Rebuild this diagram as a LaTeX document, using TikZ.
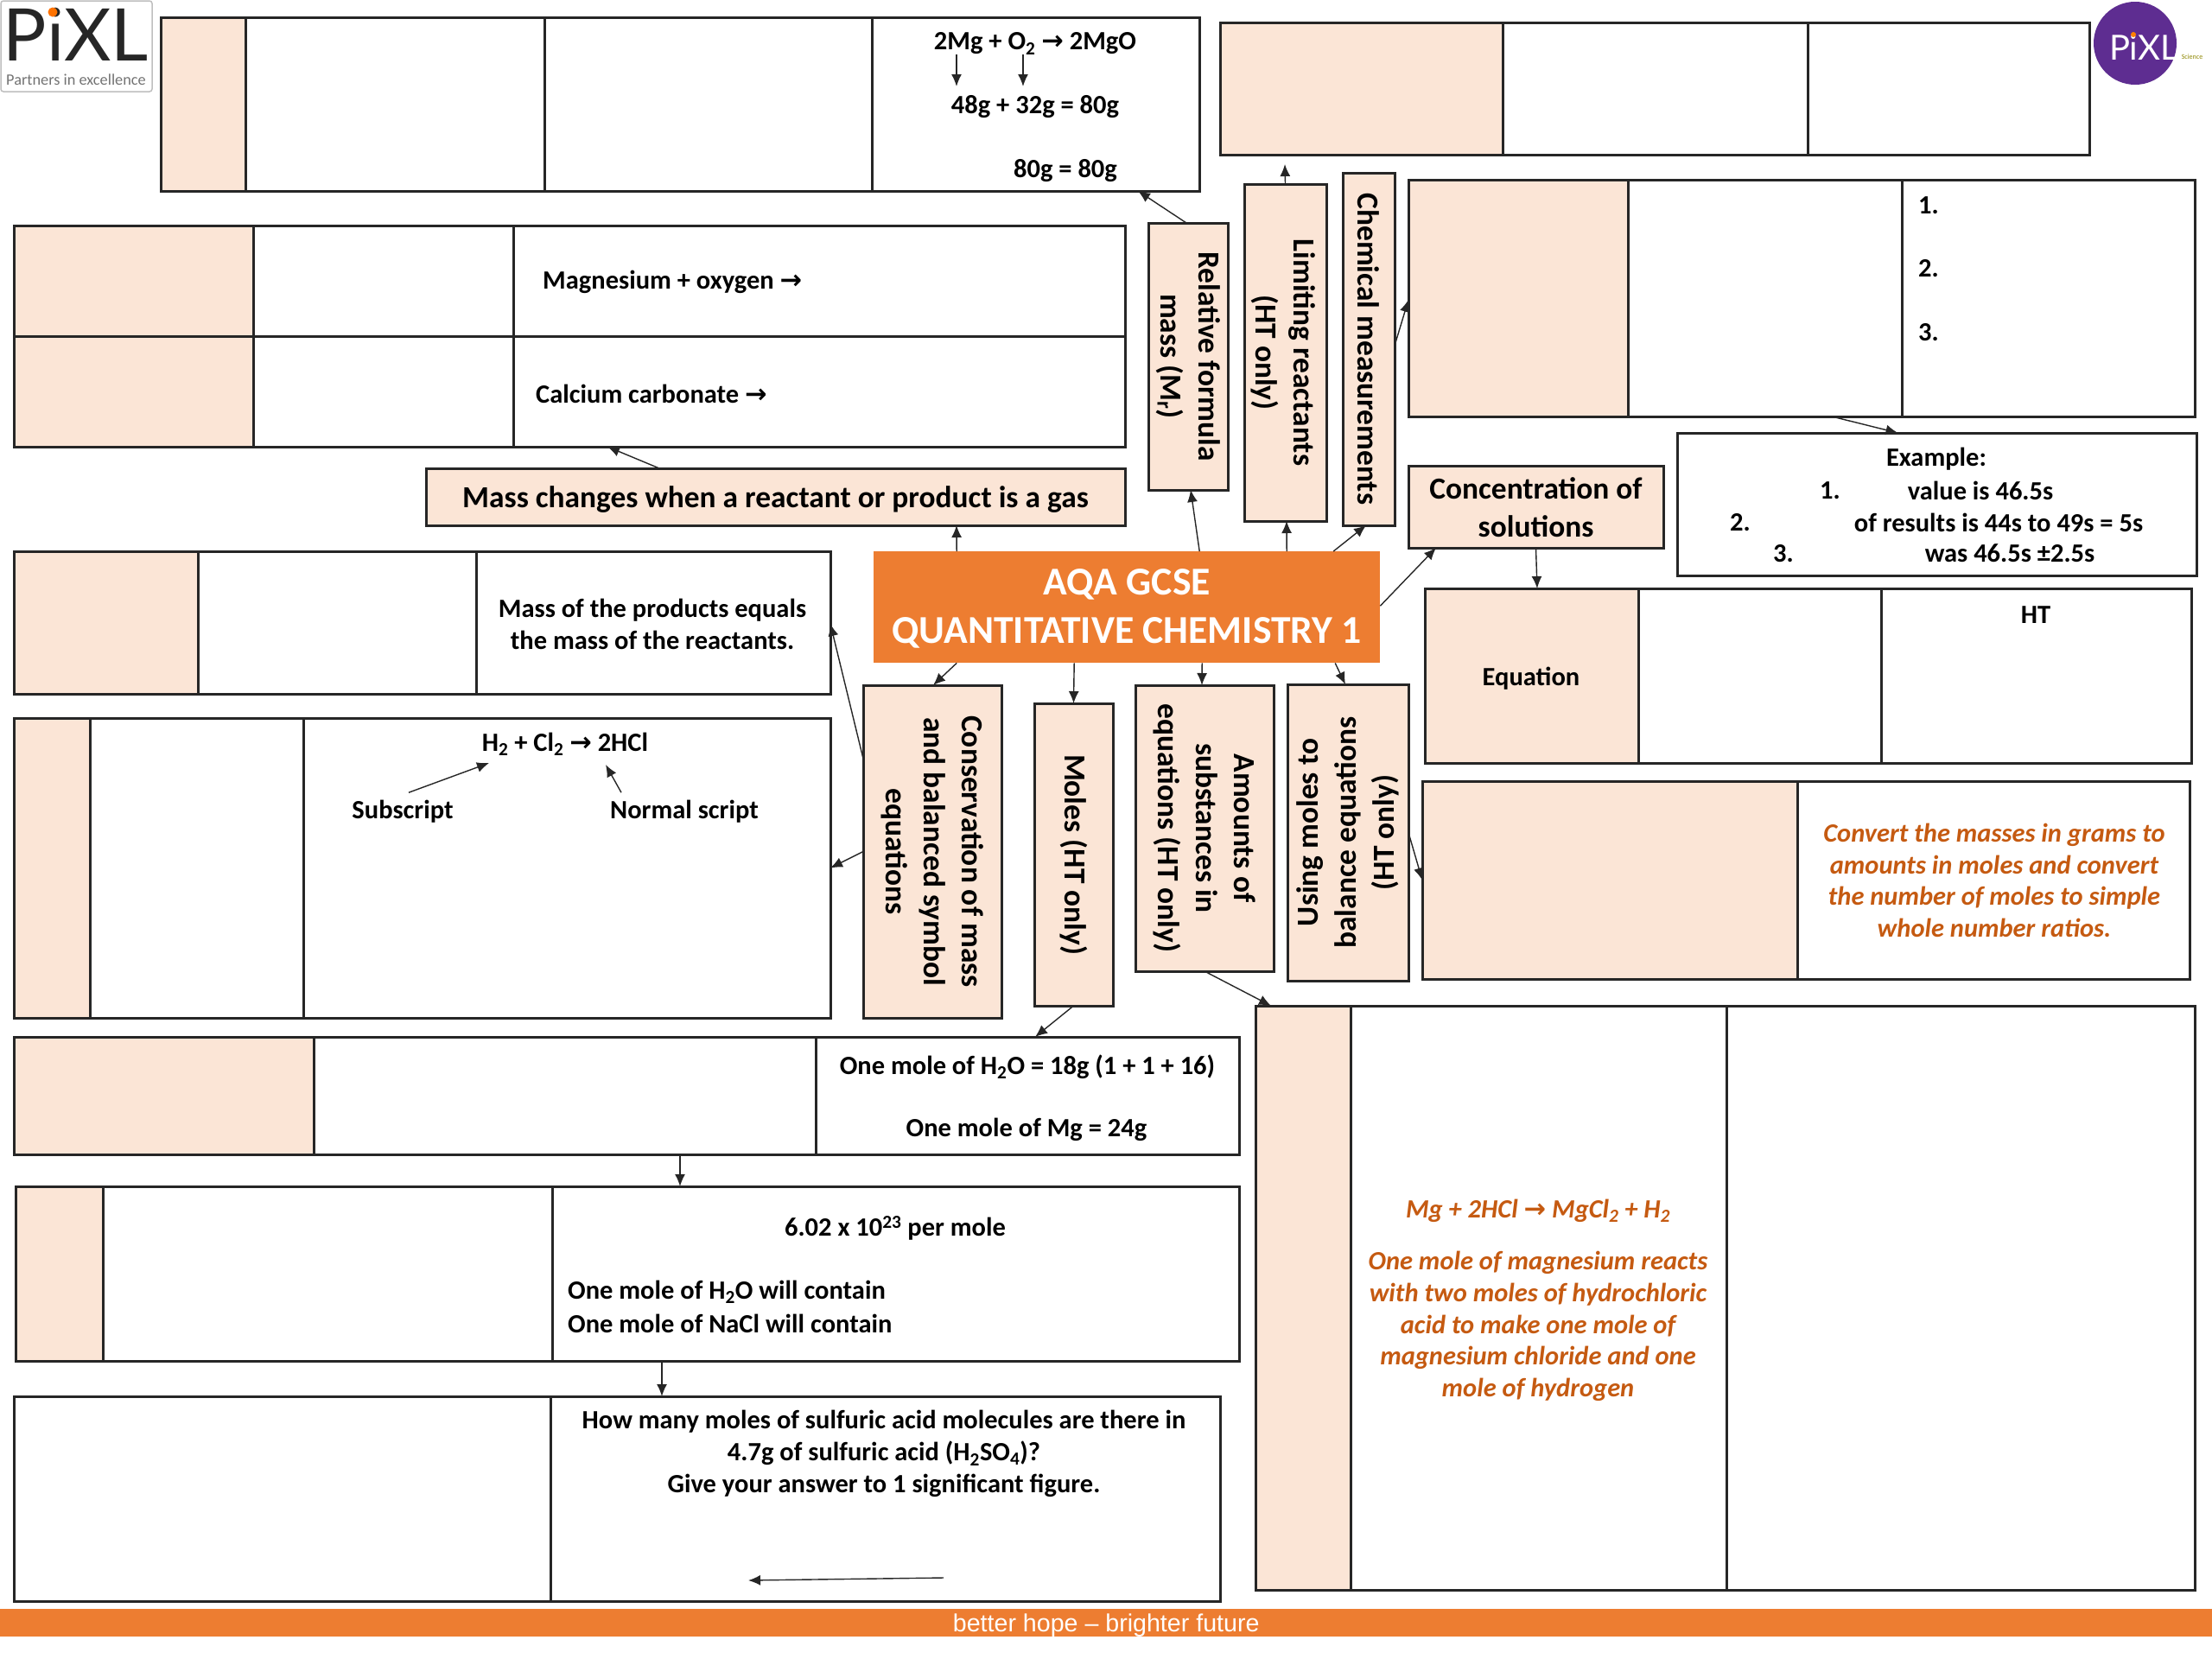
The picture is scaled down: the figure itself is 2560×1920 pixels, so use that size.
\documentclass[tikz,border=0pt]{standalone}
\usepackage{fontspec}
\setmainfont{Carlito}
\newfontfamily\logofont{Lato}
\newfontfamily\footfont{Liberation Sans}
\newfontfamily\symbfont{DejaVu Sans}
\usetikzlibrary{arrows.meta}

\definecolor{peach}{HTML}{FBE5D6}
\definecolor{banner}{HTML}{ED7D31}
\definecolor{rust}{HTML}{C55A11}
\definecolor{pixlpurple}{HTML}{5E2D91}

\newcommand{\yields}{{\symbfont\bfseries →}}
\newcommand{\sub}[1]{\textsubscript{#1}}
% one table cell from its top left to its bottom right corner
\newcommand{\tabcell}[6][]{%
  \node[cell,#1,minimum width={(#5-#3)*1pt},minimum height={(#6-#4)*1pt}] (#2) at (#3,#4) {};}

\tikzset{
  cell/.style={draw=black!85,line width=3pt,anchor=north west,inner sep=0pt,outer sep=0pt},
  peachy/.style={fill=peach},
  txt/.style={font=\bfseries\fontsize{30.5}{37}\selectfont,align=center,inner sep=0pt,text=black,yshift=-1.5pt},
  topic/.style={font=\bfseries\fontsize{35.4}{44}\selectfont,align=center,inner sep=0pt,text=black},
  rusty/.style={font=\bfseries\itshape\fontsize{30.5}{36.6}\selectfont,align=center,inner sep=0pt,text=rust,yshift=-1pt},
  link/.style={-{Latex[length=14pt,width=12pt]},line width=1.4pt,draw=black!85},
}

\begin{document}
\begin{tikzpicture}[x=1pt,y=-1pt]
  \useasboundingbox (0,0) rectangle (2560,1920);

  % logos
  \draw[rounded corners=3pt,draw=black!25,line width=1.5pt] (1,1) rectangle (176,106);
  \node[inner sep=0pt,font=\logofont\fontsize{84}{84}\selectfont,text=black!85] (pixl) at (88,40) {PiXL};
  \fill[orange!90!red] (61,14) circle[radius=5.5];
  \node[inner sep=0pt,font=\fontsize{18.3}{18.3}\selectfont,text=black!55] (partners) at (88,92) {Partners in excellence};
  \fill[pixlpurple] (2471,50) circle[radius=48];
  \node[inner sep=0pt,font=\logofont\fontsize{40}{40}\selectfont,text=white] (pixlb) at (2481,55) {PiXL};
  \fill[orange] (2469,40) circle[radius=3];
  \node[inner sep=0pt,font=\fontsize{8}{8}\selectfont,text=olive] (science) at (2537,66) {Science};

  % top row
  \tabcell[peachy]{ta}{186}{20}{284}{221}
  \tabcell{tb}{284}{20}{630}{221}
  \tabcell{tc}{630}{20}{1009}{221}
  \tabcell{td}{1009}{20}{1388}{221}
  \tabcell[peachy]{ua}{1412}{26}{1739}{179}
  \tabcell{ub}{1739}{26}{2092}{179}
  \tabcell{uc}{2092}{26}{2418}{179}

  % left column
  \tabcell[peachy]{ga}{16}{261}{293}{389}
  \tabcell{gb}{293}{261}{594}{389}
  \tabcell{gc}{594}{261}{1302}{389}
  \tabcell[peachy]{gd}{16}{389}{293}{517}
  \tabcell{ge}{293}{389}{594}{517}
  \tabcell{gf}{594}{389}{1302}{517}
  \tabcell[peachy]{massg}{493}{542}{1302}{608}
  \tabcell[peachy]{pa}{16}{638}{229}{803}
  \tabcell{pb}{229}{638}{551}{803}
  \tabcell{pc}{551}{638}{961}{803}
  \tabcell[peachy]{ha}{16}{831}{104}{1178}
  \tabcell{hb}{104}{831}{351}{1178}
  \tabcell{hc}{351}{831}{961}{1178}
  \tabcell[peachy]{ma}{16}{1200}{363}{1336}
  \tabcell{mb}{363}{1200}{944}{1336}
  \tabcell{mc}{944}{1200}{1434}{1336}
  \tabcell[peachy]{na}{18}{1373}{119}{1575}
  \tabcell{nb}{119}{1373}{639}{1575}
  \tabcell{nc}{639}{1373}{1434}{1575}
  \tabcell{qa}{16}{1616}{637}{1853}
  \tabcell{qb}{637}{1616}{1412}{1853}

  % right column
  \tabcell[peachy]{ca}{1630}{208}{1884}{482}
  \tabcell{cb}{1884}{208}{2201}{482}
  \tabcell{cc}{2201}{208}{2540}{482}
  \tabcell{ex}{1941}{501}{2542}{666}
  \tabcell[peachy]{conc}{1630}{539}{1925}{634}
  \tabcell[peachy]{ea}{1649}{681}{1896}{883}
  \tabcell{eb}{1896}{681}{2177}{883}
  \tabcell{ec}{2177}{681}{2536}{883}
  \tabcell[peachy]{va}{1646}{904}{2080}{1133}
  \tabcell{vb}{2080}{904}{2534}{1133}
  \tabcell[peachy]{ba}{1453}{1164}{1563}{1840}
  \tabcell{bb}{1563}{1164}{1998}{1840}
  \tabcell{bc}{1998}{1164}{2540}{1840}

  % topic boxes round the title
  \tabcell[peachy]{rel}{1329}{258}{1421}{567}
  \tabcell[peachy]{lim}{1440}{213}{1535}{603}
  \tabcell[peachy]{chem}{1554}{200}{1614}{608}
  \tabcell[peachy]{cons}{999}{793}{1159}{1178}
  \tabcell[peachy]{moles}{1197}{814}{1288}{1164}
  \tabcell[peachy]{amt}{1314}{793}{1474}{1124}
  \tabcell[peachy]{usem}{1490}{792}{1630}{1135}
  \node[topic,rotate=-90] (reltxt) at (rel) {Relative formula\\mass (M\sub{r})};
  \node[topic,rotate=-90] (limtxt) at ([xshift=-2]lim.center) {Limiting reactants\\(HT only)};
  \node[topic,rotate=-90] (chemtxt) at (chem) {Chemical measurements};
  \node[topic,rotate=-90] (constxt) at (cons) {Conservation of mass\\and balanced symbol\\equations};
  \node[topic,rotate=-90] (molestxt) at (moles) {Moles (HT only)};
  \node[topic,rotate=-90] (amttxt) at (amt) {Amounts of\\substances in\\equations (HT only)};
  \node[topic,rotate=90] (usetxt) at (usem) {Using moles to\\balance equations\\(HT only)};
  \node[topic] (massgtxt) at ([yshift=-3.5]massg.center) {Mass changes when a reactant or product is a gas};
  \node[topic] (conctxt) at ([yshift=-1]conc.center) {Concentration of\\solutions};

  % title
  \node[anchor=north west,fill=banner,inner sep=0pt,minimum width=586pt,minimum height=129pt,
        font=\bfseries\fontsize{45.7}{56}\selectfont,align=center,text=white] (title) at (1011,638) {};
  \node[font=\bfseries\fontsize{45.7}{56}\selectfont,align=center,text=white,inner sep=0pt] (titletxt)
        at ([yshift=-2]title.center) {AQA GCSE\\QUANTITATIVE CHEMISTRY 1};

  % footer
  \node[anchor=north west,fill=banner,inner sep=0pt,minimum width=2560pt,minimum height=32pt] (foot) at (0,1862) {};
  \node[font=\footfont\fontsize{28.6}{28.6}\selectfont,text=white,inner sep=0pt] (foottxt)
        at ([yshift=-3]foot.center) {better hope – brighter future};

  % table texts
  \node[txt] (mgeq) at (1198,49) {2Mg + O\sub{2} \yields{} 2MgO};
  \node[txt] (mgsum) at (1198,122) {48g + 32g = 80g};
  \node[txt] (mgres) at (1233,196) {80g = 80g};
  \node[txt,anchor=west] (mgox) at (628,325) {Magnesium + oxygen \yields};
  \node[txt,anchor=west] (caco) at (620,454) {Calcium carbonate \yields};
  \node[txt] (prod) at (755,721) {Mass of the products equals\\the mass of the reactants.};
  \node[txt] (hcl) at (654,860) {H\sub{2} + Cl\sub{2} \yields{} 2HCl};
  \node[txt] (subs) at (466,938) {Subscript};
  \node[txt] (norm) at (792,938) {Normal script};
  \node[txt] (water) at (1189,1233) {One mole of H\sub{2}O = 18g (1 + 1 + 16)};
  \node[txt] (magn) at (1188,1306) {One mole of Mg = 24g};
  \node[txt] (avo) at (1036,1420) {6.02 x 10\textsuperscript{23} per mole};
  \node[txt,anchor=west] (cwat) at (657,1494) {One mole of H\sub{2}O will contain};
  \node[txt,anchor=west] (cnacl) at (657,1530) {One mole of NaCl will contain};
  \node[txt] (quest) at (1023,1681) {How many moles of sulfuric acid molecules are there in\\4.7g of sulfuric acid (H\sub{2}SO\sub{4})?\\Give your answer to 1 significant figure.};
  \node[txt] (one) at (2232,236) {1.};
  \node[txt] (two) at (2232,309) {2.};
  \node[txt] (three) at (2232,383) {3.};
  \node[txt] (exm) at (2241,530) {Example:};
  \node[txt] (exa) at (2118,566) {1.};
  \node[txt] (exav) at (2292,566) {value is 46.5s};
  \node[txt] (exb) at (2014,603) {2.};
  \node[txt] (exbv) at (2313,603) {of results is 44s to 49s = 5s};
  \node[txt] (exc) at (2064,639) {3.};
  \node[txt] (excv) at (2326,639) {was 46.5s ±2.5s};
  \node[txt] (eqn) at (1772,784) {Equation};
  \node[txt] (ht) at (2356,710) {HT};
  \node[rusty] (ratio) at (2308,1018) {Convert the masses in grams to\\amounts in moles and convert\\the number of moles to simple\\whole number ratios.};
  \node[rusty] (mgeqn) at (1780,1400) {Mg + 2HCl \yields{} MgCl\sub{2} + H\sub{2}};
  \node[rusty] (react) at (1780,1534) {One mole of magnesium reacts\\with two moles of hydrochloric\\acid to make one mole of\\magnesium chloride and one\\mole of hydrogen};

  % free ends
  \coordinate (limend) at (1487,190);
  \coordinate (mgl) at (1107,100);
  \coordinate (mgr) at (1184,100);
  \coordinate (subend) at (566,883);
  \coordinate (normend) at (701,885);
  \coordinate (molfrom) at (1092,1826);
  \coordinate (molto) at (866,1829);

  % connectors
  \draw[link] ([xshift=-2]rel.north) -- ([xshift=118.5]td.south);
  \draw[link] ([xshift=-197]title.north) -- ([xshift=209.5]massg.south);
  \draw[link] ([xshift=84]title.north) -- ([xshift=3]rel.south);
  \draw[link] ([xshift=185]title.north) -- ([xshift=1.5]lim.south);
  \draw[link] (lim.north) -- (limend);
  \draw[link] ([xshift=239]title.north) -- ([xshift=-3]chem.south);
  \draw[link] ([yshift=4]chem.east) -- ([yshift=-2]ca.west);
  \draw[link] ([xshift=77.5]cb.south) -- ([xshift=-45]ex.north);
  \draw[link] ([yshift=1.5]title.east) -- ([xshift=-115.5]conc.south);
  \draw[link] (conc.south) -- ([xshift=6.5]ea.north);
  \draw[link] ([xshift=-134.5]massg.north) -- ([xshift=-245]gf.south);
  \draw[link] ([xshift=-197]title.south) -- ([xshift=1]cons.north);
  \draw[link] ([xshift=-61]title.south) -- (moles.north);
  \draw[link] ([xshift=87]title.south) -- ([xshift=-3]amt.north);
  \draw[link] ([xshift=241]title.south) -- ([xshift=-3]usem.north);
  \draw[link] ([yshift=107.5]cons.west) -- ([yshift=-1.5]pc.east);
  \draw[link] (cons.west) -- (hc.east);
  \draw[link] (moles.south) -- ([xshift=9]mc.north);
  \draw[link] ([xshift=133.5]mb.south) -- ([xshift=-249.5]nc.north);
  \draw[link] ([xshift=-270.5]nc.south) -- ([xshift=-258.5]qb.north);
  \draw[link] (usem.east) -- (va.west);
  \draw[link] (amt.south) -- ([xshift=-37]ba.north);
  \draw[link] ([xshift=-91]mgeq.south) -- (mgl);
  \draw[link] ([xshift=-14]mgeq.south) -- (mgr);
  \draw[link] ([xshift=7,yshift=9]subs.north) -- (subend);
  \draw[link] ([xshift=-73,yshift=9]norm.north) -- (normend);
  \draw[link] (molfrom) -- (molto);
\end{tikzpicture}
\end{document}
